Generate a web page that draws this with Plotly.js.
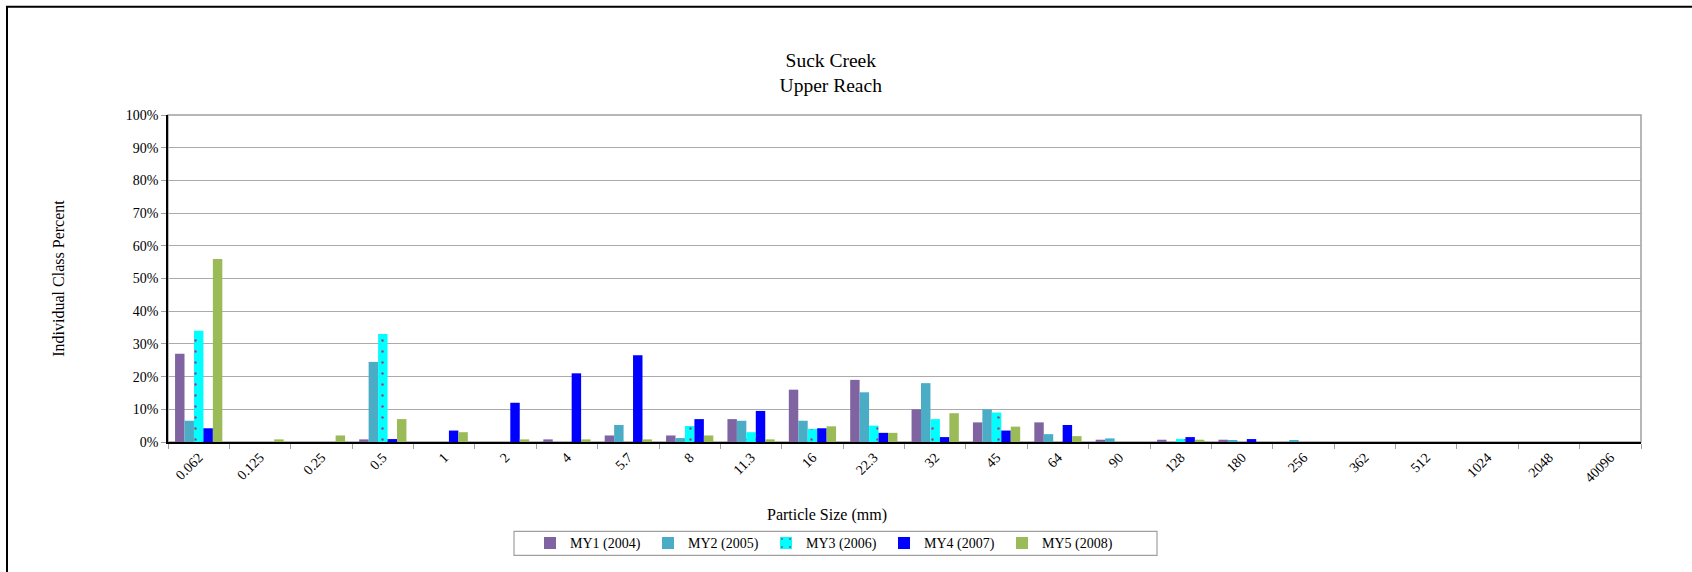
<!DOCTYPE html>
<html>
<head>
<meta charset="utf-8">
<script src="https://cdn.plot.ly/plotly-3.0.1.min.js"></script>
<style>
html,body{margin:0;padding:0;background:#fff;}
#chart{width:1692px;height:572px;}
</style>
</head>
<body>
<div id="chart"></div>
<script>
// Particle size classes (mm)
var categories = ["0.062","0.125","0.25","0.5","1","2","4","5.7","8","11.3","16","22.3","32","45","64","90","128","180","256","362","512","1024","2048","40096"];

// Individual class percent (%)
var my1_2004 = [27, 0, 0, 0.8, 0, 0, 0.8, 2, 2, 7, 16, 19, 10, 6, 6, 0.7, 0.7, 0.7, 0, 0, 0, 0, 0, 0];
var my2_2005 = [6.5, 0, 0, 24.5, 0, 0, 0, 5.2, 1.2, 6.5, 6.5, 15.2, 18, 10, 2.4, 1.1, 0, 0.4, 0.4, 0, 0, 0, 0, 0];
var my3_2006 = [34, 0, 0, 33, 0, 0, 0, 0, 4.9, 3, 4, 5, 7, 9, 0, 0, 0.9, 0, 0, 0, 0, 0, 0, 0];
var my4_2007 = [4.2, 0, 0, 0.9, 3.5, 12, 21, 26.5, 7, 9.5, 4.2, 2.8, 1.5, 3.5, 5.2, 0, 1.5, 0.9, 0, 0, 0, 0, 0, 0];
var my5_2008 = [56, 0.8, 2, 7, 3, 0.8, 0.8, 0.8, 2, 0.8, 4.8, 2.8, 8.8, 4.7, 1.8, 0, 0.7, 0, 0, 0, 0, 0, 0, 0];

var seriesNames = ["MY1 (2004)", "MY2 (2005)", "MY3 (2006)", "MY4 (2007)", "MY5 (2008)"];
var seriesValues = [my1_2004, my2_2005, my3_2006, my4_2007, my5_2008];
var seriesColors = ["#8064A2", "#4BACC6", "#00FFFF", "#0000FF", "#9BBB59"];

function pct(arr){ return arr.map(function(v){ return v/100; }); }

var traces = seriesNames.map(function(name, i){
  var marker = {color: seriesColors[i], line: {width: 0}};
  if (i === 2) {
    marker.pattern = {shape: ".", fgcolor: "#A04078", bgcolor: "#00FFFF", size: 11, solidity: 0.04};
  }
  return {
    type: "bar",
    name: name,
    x: categories,
    y: pct(seriesValues[i]),
    marker: marker,
    hoverinfo: "x+y+name"
  };
});

var serif = "Liberation Serif, Times New Roman, serif";

// pixel helpers for the plot area (168..1641 x, 115..444 y)
function px(x){ return (x - 168) / 1473; }
function py(y){ return (444 - y) / 329; }

var layout = {
  width: 1692,
  height: 572,
  margin: {l: 168, r: 51, t: 115, b: 128, pad: 0},
  paper_bgcolor: "#ffffff",
  plot_bgcolor: "#ffffff",
  font: {family: serif, size: 14, color: "#000"},
  barmode: "group",
  bargap: 0.23,
  bargroupgap: 0,
  title: {
    text: "Suck Creek<br>Upper Reach",
    font: {family: serif, size: 19.5, color: "#000"},
    xref: "container", yref: "container",
    x: 0.491, xanchor: "center",
    y: 1 - 67/572, yanchor: "middle"
  },
  xaxis: {
    type: "category",
    tickangle: -45,
    tickson: "boundaries",
    ticks: "outside",
    ticklen: 5,
    tickcolor: "#A0A0A0",
    showline: true,
    linecolor: "#000",
    linewidth: 1.5,
    showgrid: false,
    tickfont: {family: serif, size: 14, color: "#000"},
    automargin: false
  },
  yaxis: {
    range: [0, 1],
    dtick: 0.1,
    tickformat: ".0%",
    ticks: "outside",
    ticklen: 5,
    tickcolor: "#A0A0A0",
    showline: true,
    linecolor: "#000",
    linewidth: 1.5,
    showgrid: true,
    gridcolor: "#ABABAB",
    gridwidth: 1,
    zeroline: false,
    tickfont: {family: serif, size: 14, color: "#000"},
    title: {text: "Individual Class Percent", font: {family: serif, size: 16, color: "#000"}, standoff: 57},
    automargin: false
  },
  legend: {
    orientation: "h",
    x: px(530),
    xanchor: "left",
    y: py(546),
    yanchor: "middle",
    borderwidth: 0,
    bgcolor: "rgba(255,255,255,0)",
    font: {family: serif, size: 14, color: "#000"},
    entrywidth: 73,
    entrywidthmode: "pixels",
    traceorder: "normal"
  },
  annotations: [{
    text: "Particle Size (mm)",
    xref: "paper", yref: "paper",
    x: px(827), y: py(517),
    xanchor: "center", yanchor: "middle",
    showarrow: false,
    font: {family: serif, size: 16, color: "#000"}
  }],
  shapes: [
    {type: "rect", xref: "paper", yref: "paper", x0: 0, x1: 1, y0: 0, y1: 1,
     line: {color: "#A0A0A0", width: 1.5}, layer: "below"},
    {type: "rect", xref: "paper", yref: "paper",
     x0: px(514), x1: px(1157), y0: py(558), y1: py(534),
     line: {color: "#A0A0A0", width: 1.2}, fillcolor: "rgba(0,0,0,0)"},
    {type: "rect", xref: "paper", yref: "paper",
     x0: px(7), x1: 1.2, y0: -0.5, y1: py(6),
     line: {color: "#000", width: 2}, fillcolor: "rgba(0,0,0,0)"}
  ],
  showlegend: true
};

Plotly.newPlot("chart", traces, layout, {displayModeBar: false});
</script>
</body>
</html>
